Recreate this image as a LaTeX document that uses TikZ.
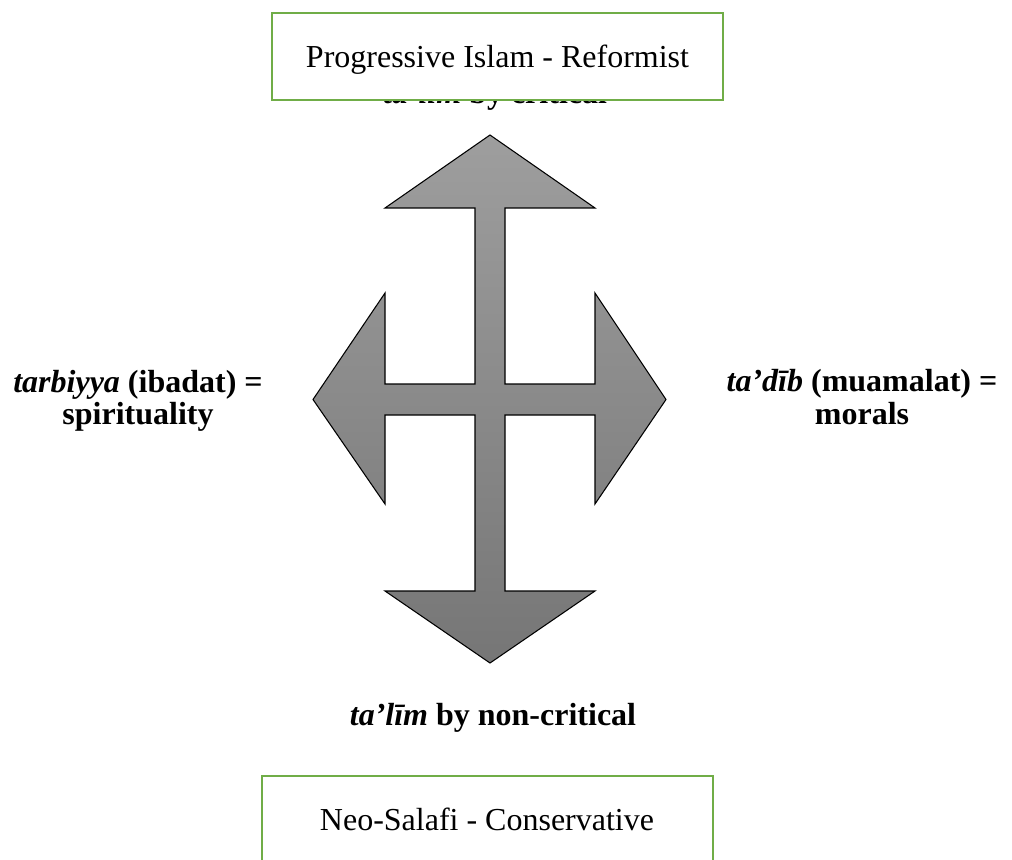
\documentclass[tikz,border=0pt]{standalone}
\usepackage{fontspec}
\setmainfont{Liberation Serif}
\definecolor{boxgreen}{RGB}{112,173,71}
\definecolor{arrowtop}{RGB}{158,158,158}
\definecolor{arrowbot}{RGB}{118,118,118}
\begin{document}
\begin{tikzpicture}[x=0.375pt,y=-0.375pt,
  every node/.style={font=\fontsize{12}{12.2}\selectfont, inner sep=0pt},
  labeltext/.style={font=\fontsize{12}{12.2}\selectfont\bfseries, align=center},
  greenbox/.style={draw=boxgreen, line width=0.8pt, fill=white},
  crossarrow/.style={draw=black, line width=0.4pt, top color=arrowtop, bottom color=arrowbot}]
\useasboundingbox (0,0) rectangle (1012,859);
\clip (0,0) rectangle (1012,859);

% hidden label behind the top box
\node[labeltext, anchor=base] (critical) at (495,104) {\textit{ta’līm} by critical};

% top box
\draw[greenbox] (272,13) rectangle (723,100);
\node[anchor=base] (top) at (497.5,68) {Progressive Islam - Reformist};

% four-way arrow
\path[crossarrow]
 (490,135) -- (595,208) -- (505,208) -- (505,384) -- (595,384) -- (595,293)
 -- (666,399.5) -- (595,504) -- (595,415) -- (505,415) -- (505,591)
 -- (595,591) -- (490,663) -- (385,591) -- (475,591) -- (475,415)
 -- (385,415) -- (385,504) -- (313,399.5) -- (385,293) -- (385,384)
 -- (475,384) -- (475,208) -- (385,208) -- cycle;

% side labels
\node[labeltext, anchor=center] (left) at (138,401) {\textit{tarbiyya} (ibadat) =\\spirituality};
\node[labeltext, anchor=center] (right) at (862,397) {\textit{ta’dīb} (muamalat) =\\morals};

% bottom label
\node[labeltext, anchor=base] (noncritical) at (493,725) {\textit{ta’līm} by non-critical};

% bottom box (open at page edge)
\draw[greenbox] (262,776) rectangle (713,900);
\node[anchor=base] (bottom) at (487,830) {Neo-Salafi - Conservative};
\end{tikzpicture}
\end{document}
